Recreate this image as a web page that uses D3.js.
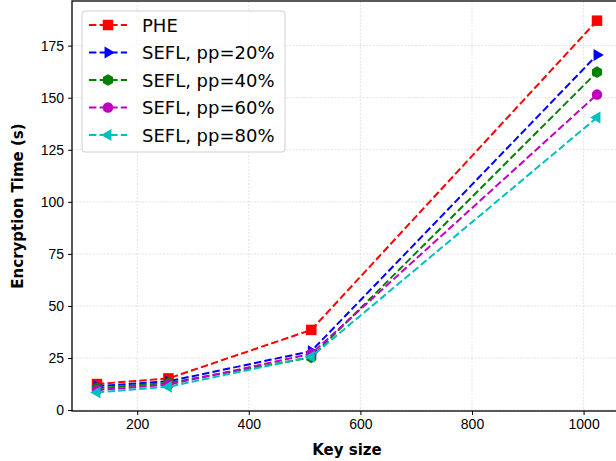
<!DOCTYPE html>
<meta charset="UTF-8">
<script src="https://cdn.jsdelivr.net/npm/d3@7"></script>
<style>
 body { margin:0; background:#fff; }
 svg { font-family:"DejaVu Sans", sans-serif; }
 .grid line { stroke:#dcdcdc; stroke-width:0.8px; stroke-dasharray:2,1.5; }
 .axis path, .axis line { stroke:#000; }
 .axis text { font-size:14px; fill:#000; }
</style>
<svg id="chart" width="616" height="461"></svg>
<script>
 // data
 var keySizes = [128, 256, 512, 1024];
 var seriesNames = ["PHE", "SEFL, pp=20%", "SEFL, pp=40%", "SEFL, pp=60%", "SEFL, pp=80%"];
 var phe   = [12.5, 15.2, 38.5, 187];
 var pp20  = [11.5, 13.8, 28.3, 170.5];
 var pp40  = [10.5, 13.0, 25.3, 162.3];
 var pp60  = [9.6, 12.2, 27.0, 151.5];
 var pp80  = [8.5, 11.2, 25.6, 140.5];
 var yTicks = [0, 25, 50, 75, 100, 125, 150, 175];
 var xTicks = [200, 400, 600, 800, 1000];

 var colors = ["#ff0000", "#0000ff", "#008000", "#bf00bf", "#00bfbf"];
 var shapes = ["square", "right", "hexagon", "circle", "left"];
 var allSeries = [phe, pp20, pp40, pp60, pp80];

 var pLeft = 72, pRight = 622, pTop = 1, pBottom = 411;
 var svg = d3.select("#chart");

 var x = d3.scaleLinear().domain([83.2, 1068.8]).range([pLeft, pRight]);
 var y = d3.scaleLinear().domain([-0.45, 196.45]).range([pBottom, pTop]);

 // grid
 var grid = svg.append("g").attr("class", "grid");
 grid.selectAll(".gx").data(xTicks).enter().append("line")
     .attr("x1", function (d) { return x(d); }).attr("x2", function (d) { return x(d); })
     .attr("y1", pTop).attr("y2", pBottom);
 grid.selectAll(".gy").data(yTicks).enter().append("line")
     .attr("x1", pLeft).attr("x2", pRight)
     .attr("y1", function (d) { return y(d); }).attr("y2", function (d) { return y(d); });

 // markers
 function markerPath(shape, s) {
     if (shape == "square") return d3.symbol(d3.symbolSquare, s * s)();
     if (shape == "circle") return d3.symbol(d3.symbolCircle, Math.PI * s * s / 4)();
     var r, pts = [];
     if (shape == "hexagon") {
         r = s / 2 + 0.6;
         for (var i = 0; i < 6; i++) {
             var a = -Math.PI / 2 + i * Math.PI / 3;
             pts.push([r * Math.cos(a), r * Math.sin(a)]);
         }
     } else {
         r = s / 2 + 1.6;
         var dir = shape == "right" ? 1 : -1;
         pts = [[dir * r, 0], [-dir * r * 0.5, -r * 0.866], [-dir * r * 0.5, r * 0.866]];
     }
     return "M" + pts.map(function (p) { return p.join(","); }).join("L") + "Z";
 }

 var line = d3.line().x(function (d, i) { return x(keySizes[i]); }).y(function (d) { return y(d); });

 var plot = svg.append("g");
 allSeries.forEach(function (vals, k) {
     plot.append("path").attr("d", line(vals))
         .attr("fill", "none").attr("stroke", colors[k])
         .attr("stroke-width", 2).attr("stroke-dasharray", "7.4,3.2");
     plot.selectAll(".m" + k).data(vals).enter().append("path")
         .attr("transform", function (d, i) { return "translate(" + x(keySizes[i]) + "," + y(d) + ")"; })
         .attr("d", markerPath(shapes[k], 10.5))
         .attr("fill", colors[k]);
 });

 // axes
 svg.append("g").attr("class", "axis")
    .attr("transform", "translate(0," + pBottom + ")")
    .call(d3.axisBottom(x).tickValues(xTicks).tickFormat(d3.format("d")).tickSize(4).tickPadding(4))
    .call(function (g) { g.select(".domain").remove(); });
 svg.append("g").attr("class", "axis")
    .attr("transform", "translate(" + pLeft + ",0)")
    .call(d3.axisLeft(y).tickValues(yTicks).tickSize(4).tickPadding(4))
    .call(function (g) { g.select(".domain").remove(); });

 svg.append("rect").attr("x", pLeft).attr("y", pTop)
    .attr("width", pRight - pLeft).attr("height", pBottom - pTop)
    .attr("fill", "none").attr("stroke", "#000").attr("stroke-width", 1.3);

 svg.append("text").attr("x", (pLeft + pRight) / 2).attr("y", 455)
    .attr("text-anchor", "middle").attr("font-weight", "bold").attr("font-size", 15)
    .text("Key size");
 svg.append("text").attr("transform", "translate(23," + ((pTop + pBottom) / 2) + ") rotate(-90)")
    .attr("text-anchor", "middle").attr("font-weight", "bold").attr("font-size", 15)
    .text("Encryption Time (s)");

 // legend
 var leg = svg.append("g");
 leg.append("rect").attr("x", 82).attr("y", 11).attr("width", 203).attr("height", 141)
    .attr("rx", 3).attr("fill", "#fff").attr("fill-opacity", 0.8)
    .attr("stroke", "#d0d0d0").attr("stroke-width", 1);
 seriesNames.forEach(function (name, k) {
     var ly = 25 + k * 27.5;
     leg.append("line").attr("x1", 89).attr("x2", 127).attr("y1", ly).attr("y2", ly)
        .attr("stroke", colors[k]).attr("stroke-width", 2).attr("stroke-dasharray", "7.4,3.2");
     leg.append("path").attr("transform", "translate(108," + ly + ")")
        .attr("d", markerPath(shapes[k], 10.5)).attr("fill", colors[k]);
     leg.append("text").attr("x", 142).attr("y", ly + 6.5)
        .attr("font-size", 18).text(name);
 });
</script>
